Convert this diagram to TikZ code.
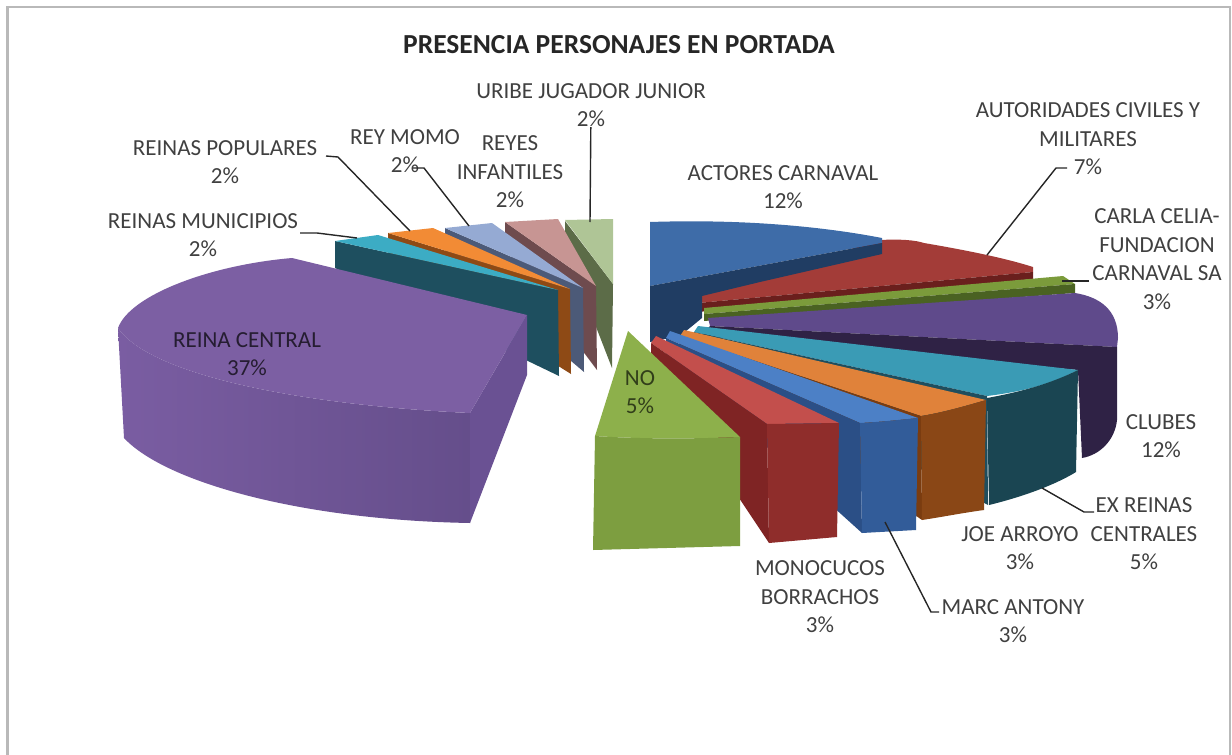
\documentclass[tikz,border=0pt]{standalone}
\usepackage{fontspec}
\setmainfont{Carlito}
\usepackage{xcolor}
\definecolor{colorFrame}{HTML}{B9B9B9}
\definecolor{colorLabel}{HTML}{404040}
\definecolor{colorActoresTop}{HTML}{3E6CA8}
\definecolor{colorActoresSide}{HTML}{203D63}
\definecolor{colorAutorTop}{HTML}{A33C38}
\definecolor{colorAutorSide}{HTML}{6A1F1D}
\definecolor{colorCarlaTop}{HTML}{7B9B3B}
\definecolor{colorCarlaSide}{HTML}{4A6222}
\definecolor{colorClubesTop}{HTML}{5F4A8B}
\definecolor{colorClubesSide}{HTML}{2F2245}
\definecolor{colorExTop}{HTML}{3A9BB5}
\definecolor{colorExSide}{HTML}{1F4E5E}
\definecolor{colorExFront}{HTML}{1A4552}
\definecolor{colorJoeTop}{HTML}{E0823A}
\definecolor{colorJoeSide}{HTML}{7A3C10}
\definecolor{colorJoeFront}{HTML}{8A4716}
\definecolor{colorMarcTop}{HTML}{4C80C6}
\definecolor{colorMarcSide}{HTML}{2B4F86}
\definecolor{colorMarcFront}{HTML}{325C99}
\definecolor{colorMonoTop}{HTML}{C34F4C}
\definecolor{colorMonoSide}{HTML}{7F2424}
\definecolor{colorMonoFront}{HTML}{8F2D2B}
\definecolor{colorNoTop}{HTML}{8DB04B}
\definecolor{colorNoFront}{HTML}{7D9E40}
\definecolor{colorReinaTop}{HTML}{7C5FA3}
\definecolor{colorReinaRimL}{HTML}{7A5DA2}
\definecolor{colorReinaRimR}{HTML}{654E8B}
\definecolor{colorReinaSide}{HTML}{6A5193}
\definecolor{colorMuniTop}{HTML}{3CACC4}
\definecolor{colorMuniSide}{HTML}{1E4F5F}
\definecolor{colorPopuTop}{HTML}{F28B35}
\definecolor{colorPopuSide}{HTML}{8E4A15}
\definecolor{colorMomoTop}{HTML}{95AAD3}
\definecolor{colorMomoSide}{HTML}{4C5A78}
\definecolor{colorReyesTop}{HTML}{C79593}
\definecolor{colorReyesSide}{HTML}{6E4B4E}
\definecolor{colorUribeTop}{HTML}{AFC596}
\definecolor{colorUribeSide}{HTML}{5C6C48}
\usetikzlibrary{positioning}
\tikzset{
  lbl/.style={font=\fontsize{23}{28.5}\selectfont, text=colorLabel, align=center, inner sep=0pt},
  leader/.style={draw=black!85, line width=1.4pt},
}

\begin{document}
\begin{tikzpicture}[x=1pt, y=-1pt]
\useasboundingbox (0,0) rectangle (1232,755);
\draw[colorFrame, line width=2.5pt] (7.5,820) -- (7.5,7) -- (1230,7) -- (1230,820);
\node[font=\bfseries\fontsize{27.5}{32}\selectfont, text=black!85] (title) at (619,45) {PRESENCIA PERSONAJES EN PORTADA};

\fill[colorUribeSide] (565,221) -- (613,284) -- (612,368) -- (565,247) -- cycle;
\fill[colorUribeTop] (565,220) -- (613,219) -- (613,284) -- cycle;
\fill[colorReyesSide] (505,222) -- (596,286) -- (597,370) -- (505,248) -- cycle;
\fill[colorReyesTop] (505,222) -- (558,219) -- (596,286) -- cycle;
\fill[colorMomoSide] (445,228) -- (583,288) -- (584,372) -- (445,254) -- cycle;
\fill[colorMomoTop] (445,228) -- (492,223) -- (583,288) -- cycle;
\fill[colorPopuSide] (388,233) -- (570,289) -- (571,374) -- (388,259) -- cycle;
\fill[colorPopuTop] (388,233) -- (433,228) -- (570,289) -- cycle;
\fill[colorMuniSide] (335,241) -- (558,290) -- (559,376) -- (335,268) -- cycle;
\fill[colorMuniTop] (335,241) -- (378,235) -- (558,290) -- cycle;

\shade[left color=colorReinaRimL, right color=colorReinaRimR] (118,328) -- (124,438) .. controls (165,482) and (300,520) .. (470,523) -- (470,413) .. controls (300,405) and (150,375) .. (118,328) -- cycle;
\fill[colorReinaSide] (527,315) -- (527,375) -- (470,523) -- (470,413) -- cycle;
\fill[colorReinaTop] (527,315) -- (292,258) .. controls (210,265) and (130,295) .. (118,328) .. controls (150,375) and (300,405) .. (470,413) -- cycle;

\fill[colorAutorTop] (698,296) -- (880,240) .. controls (900,239) and (915,240) .. (924,243) .. controls (965,250) and (1005,258) .. (1033,267) -- (1033,272) -- (698,303) -- cycle;
\fill[colorAutorSide] (698,303) -- (1033,272) -- (1033,279) -- (698,312) -- cycle;
\fill[colorActoresTop] (650,222) .. controls (740,219) and (820,226) .. (882,238) -- (882,243) -- (650,286) -- cycle;
\fill[colorActoresSide] (650,286) -- (882,243) -- (882,254) -- (760,282) -- (702,296) -- (702,318) -- (680,336) -- (650,342) -- cycle;
\fill[colorCarlaTop] (704,308) -- (1063,276) -- (1075,284) -- (704,314) -- cycle;
\fill[colorCarlaSide] (704,314) -- (1075,284) -- (1075,293) -- (704,321) -- cycle;
\fill[colorClubesTop] (708,318) -- (1075,293) .. controls (1100,297) and (1118,310) .. (1118,338) -- (1117,347) -- (710,326) -- cycle;
\fill[colorClubesSide] (710,326) -- (1117,347) -- (1117,420) .. controls (1115,440) and (1100,455) .. (1082,458) -- (1078,370) -- (700,336) -- cycle;
\fill[colorExTop] (698,326) -- (1078,370) .. controls (1050,385) and (1020,392) .. (987,396) -- (694,332) -- cycle;
\fill[colorExSide] (694,332) -- (987,396) -- (988,505) -- (694,348) -- cycle;
\fill[colorExFront] (987,398) .. controls (1020,392) and (1050,384) .. (1078,370) -- (1076,472) .. controls (1060,482) and (1030,495) .. (989,505) -- cycle;
\fill[colorJoeTop] (684,330) -- (986,400) .. controls (965,406) and (945,412) .. (921,416) -- (680,336) -- cycle;
\fill[colorJoeSide] (680,336) -- (921,416) -- (922,520) -- (680,352) -- cycle;
\fill[colorJoeFront] (921,416) .. controls (945,412) and (965,406) .. (986,400) -- (984,510) .. controls (962,513) and (942,517) .. (922,520) -- cycle;
\fill[colorMarcTop] (670,331) -- (918,418) .. controls (898,420) and (880,422) .. (860,423) -- (666,338) -- cycle;
\fill[colorMarcSide] (666,338) -- (860,423) -- (862,533) -- (666,356) -- cycle;
\fill[colorMarcFront] (860,423) .. controls (880,422) and (898,420) .. (918,418) -- (916,530) -- (862,533) -- cycle;
\fill[colorMonoTop] (656,336) -- (839,423) -- (767,424) -- (651,343) -- cycle;
\fill[colorMonoSide] (651,343) -- (767,424) -- (769,543) -- (651,366) -- cycle;
\fill[colorMonoFront] (767,424) -- (839,423) -- (837,537) -- (769,543) -- cycle;
\fill[colorNoTop] (628,331) -- (740,437) .. controls (690,439) and (640,439) .. (595,436) -- cycle;
\fill[colorNoFront] (595,436) .. controls (640,439) and (690,439) .. (740,437) -- (740,546) -- (593,550) -- cycle;

\node[lbl] (uribe) at (591,105) {URIBE JUGADOR JUNIOR\\2\%};
\node[lbl] (reyes) at (510,172) {REYES\\INFANTILES\\2\%};
\node[lbl] (reymomo) at (405,151) {REY MOMO\\2\%};
\node[lbl] (populares) at (225,162) {REINAS POPULARES\\2\%};
\node[lbl] (municipios) at (203,235) {REINAS MUNICIPIOS\\2\%};
\node[lbl, text=black!70!colorReinaTop] (reina) at (247,354) {REINA CENTRAL\\37\%};
\node[lbl, text=black!65!colorNoTop] (no) at (640,392) {NO\\5\%};
\node[lbl] (actores) at (783,187) {ACTORES CARNAVAL\\12\%};
\node[lbl] (autoridades) at (1088,139) {AUTORIDADES CIVILES Y\\MILITARES\\7\%};
\node[lbl] (carla) at (1157,259) {CARLA CELIA-\\FUNDACION\\CARNAVAL SA\\3\%};
\node[lbl] (clubes) at (1161,436) {CLUBES\\12\%};
\node[lbl] (exreinas) at (1144,534) {EX REINAS\\CENTRALES\\5\%};
\node[lbl] (joe) at (1020,548) {JOE ARROYO\\3\%};
\node[lbl] (monocucos) at (820,597) {MONOCUCOS\\BORRACHOS\\3\%};
\node[lbl] (marc) at (1013,621) {MARC ANTONY\\3\%};

\coordinate (uribeTip) at (590,222);
\coordinate (momoA) at (413,168);
\coordinate (momoB) at (424,168);
\coordinate (momoTip) at (469,226);
\coordinate (popuA) at (326,156);
\coordinate (popuB) at (338,157);
\coordinate (popuTip) at (410,231);
\coordinate (muniA) at (300,233);
\coordinate (muniB) at (317,233);
\coordinate (muniTip) at (357,238);
\coordinate (autorA) at (1067,168);
\coordinate (autorB) at (1056,168);
\coordinate (autorTip) at (987,255);
\coordinate (carlaA) at (1089,281);
\coordinate (carlaTip) at (1062,281);
\coordinate (exA) at (1094,512);
\coordinate (exB) at (1084,512);
\coordinate (exTip) at (1042,488);
\coordinate (marcA) at (939,612);
\coordinate (marcB) at (931,612);
\coordinate (marcTip) at (885,522);
\draw[leader] (uribe) -- (uribeTip);
\draw[leader] (momoA) -- (momoB) -- (momoTip);
\draw[leader] (popuA) -- (popuB) -- (popuTip);
\draw[leader] (muniA) -- (muniB) -- (muniTip);
\draw[leader] (autorA) -- (autorB) -- (autorTip);
\draw[leader] (carlaA) -- (carlaTip);
\draw[leader] (exA) -- (exB) -- (exTip);
\draw[leader] (marcA) -- (marcB) -- (marcTip);
\end{tikzpicture}
\end{document}
